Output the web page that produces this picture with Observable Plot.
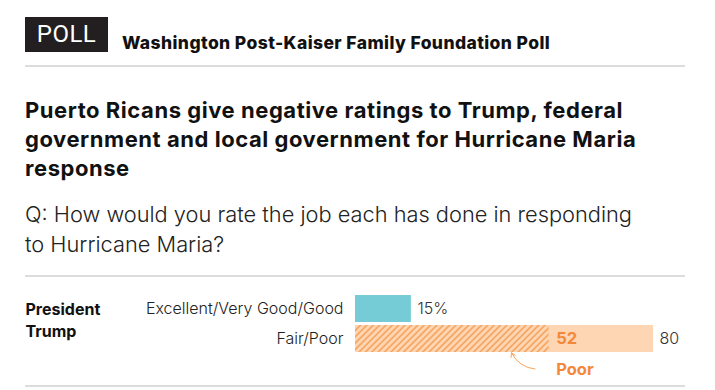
<!DOCTYPE html>
<html>
<head>
<meta charset="utf-8">
<script src="https://cdn.jsdelivr.net/npm/d3@7"></script>
<script src="https://cdn.jsdelivr.net/npm/@observablehq/plot@0.6"></script>
<style>
  html, body { margin: 0; padding: 0; background: #fff; }
  body { width: 715px; height: 390px; position: relative; overflow: hidden; font-family: Inter, Roboto, "Liberation Sans", sans-serif; color: #111; }
  .abs { position: absolute; }
  #pollbox { left: 25px; top: 17px; width: 83px; height: 35px; background: #231f20; color: #fff; font-family: Roboto, sans-serif; font-size: 24px; line-height: 35px; text-align: center; font-weight: 400; letter-spacing: 0.5px; }
  #kicker { left: 122px; top: 31px; font-size: 17.5px; font-weight: 800; line-height: 24px; white-space: nowrap; color: #111; letter-spacing: 0.4px; }
  .rule { left: 25px; width: 660px; height: 0; border-top: 2px solid #dcdcdc; }
  #title { left: 25px; top: 96px; font-size: 22px; font-weight: 700; line-height: 29px; white-space: nowrap; color: #111; letter-spacing: 0.55px; }
  #subtitle { left: 25px; top: 199px; font-size: 21.8px; font-weight: 300; line-height: 30px; white-space: nowrap; color: #222; }
  #chart { left: 0; top: 277px; }
</style>
</head>
<body>
<div id="pollbox" class="abs">POLL</div>
<div id="kicker" class="abs">Washington Post-Kaiser Family Foundation Poll</div>
<div class="abs rule" style="top:65px"></div>
<div id="title" class="abs">Puerto Ricans give negative ratings to Trump, federal<br>government and local government for Hurricane Maria<br>response</div>
<div id="subtitle" class="abs">Q: How would you rate the job each has done in responding<br>to Hurricane Maria?</div>
<div class="abs rule" style="top:275px"></div>
<div id="chart" class="abs"></div>
<div class="abs rule" style="top:385px"></div>
<script>
// ---- data ----
const groupLabel = ["President", "Trump"];
const categories = ["Excellent/Very Good/Good", "Fair/Poor"];
const values = [15, 80];
const valueLabels = ["15%", "80"];
const poorValue = 52;
const poorLabel = "Poor";
const noteRow = "note";
const xMax = 80;

// ---- colours ----
const cyan = "#76ccd6";
const lightOrange = "#fed6b3";
const stripeOrange = "#f6a35d";
const textOrange = "#f4883a";

const bars = categories.map((c, i) => ({category: c, value: values[i], label: valueLabels[i], fill: i === 0 ? cyan : lightOrange}));
const poorBar = [{category: categories[1], value: poorValue, label: String(poorValue)}];
const note = [{category: noteRow, value: poorValue, label: poorLabel}];
const arrowData = [{x1: poorValue - 3.8, y1: noteRow, x2: poorValue - 10.8, y2: categories[1]}];

const font = "Inter, Roboto, 'Liberation Sans', sans-serif";
const chart = Plot.plot({
  width: 715,
  height: 108,
  margin: 0,
  style: {fontFamily: font, fontSize: "16px", background: "transparent", overflow: "visible"},
  x: {domain: [0, xMax], range: [355, 653], axis: null},
  y: {domain: [...categories, noteRow], range: [18, 105], paddingInner: 0.1, paddingOuter: 0, axis: null},
  marks: [
    Plot.barX(bars, {y: "category", x: "value", fill: "fill"}),
    Plot.barX(poorBar, {y: "category", x: "value", fill: "url(#hatch)"}),
    Plot.text(bars, {y: "category", x: 0, text: "category", textAnchor: "end", dx: -12, fill: "#222", fontSize: 16, fontWeight: 300}),
    Plot.text(bars, {y: "category", x: "value", text: "label", textAnchor: "start", dx: 6, fill: "#333", fontSize: 16, fontWeight: 300}),
    Plot.text(poorBar, {y: "category", x: "value", text: "label", textAnchor: "start", dx: 7, fill: textOrange, fontWeight: 700, fontSize: 16.5}),
    Plot.text(note, {y: "category", x: "value", text: "label", textAnchor: "start", dx: 7, fill: textOrange, fontWeight: 700, fontSize: 16.5, dy: 1}),
    Plot.arrow(arrowData, {x1: "x1", y1: "y1", x2: "x2", y2: "y2", bend: 45, insetEnd: 14, headLength: 7, stroke: stripeOrange, strokeWidth: 1}),
    Plot.text([groupLabel.join("\n")], {frameAnchor: "left", dx: 25, y: () => categories[0], lineAnchor: "top", dy: -9, lineHeight: 1.35, fontWeight: 700, fontSize: 16, fill: "#111", style: "letter-spacing:0.4px"})
  ]
});

// hatch pattern definition
const svg = d3.select(chart);
const defs = svg.insert("defs", ":first-child");
const pat = defs.append("pattern")
  .attr("id", "hatch")
  .attr("patternUnits", "userSpaceOnUse")
  .attr("width", 4.5).attr("height", 4.5)
  .attr("patternTransform", "rotate(45)");
pat.append("rect").attr("width", 4.5).attr("height", 4.5).attr("fill", lightOrange);
pat.append("line").attr("x1", 1).attr("y1", 0).attr("x2", 1).attr("y2", 4.5).attr("stroke", stripeOrange).attr("stroke-width", 1.6);

document.getElementById("chart").appendChild(chart);
</script>
</body>
</html>
